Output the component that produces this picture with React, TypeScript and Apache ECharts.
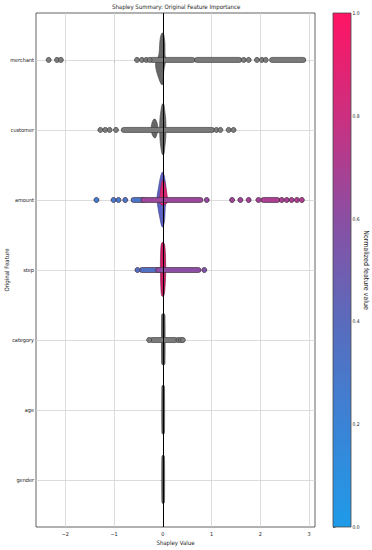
import React, { useEffect, useRef } from 'react';
import * as echarts from 'echarts';

const FONT = "'Liberation Sans Narrow', 'DejaVu Sans Condensed', 'Liberation Sans', sans-serif";

const features = ['merchant', 'customer', 'amount', 'step', 'category', 'age', 'gender'];
const xTickValues = [-2, -1, 0, 1, 2, 3];
const colorbarTickValues = [0, 0.2, 0.4, 0.6, 0.8, 1];
const colorbarColors = ['#1f9be8', '#3b83d6', '#5a6bbc', '#8a4fa3', '#cc2f7f', '#ff1464'];

// Violin outlines: [offset from the feature row, left Shapley value, right Shapley value]
const merchantViolin = [
  [-0.38, -0.02, 0.01], [-0.32, -0.05, 0.03], [-0.22, -0.065, 0.045], [-0.08, -0.08, 0.045],
  [0, -0.12, 0.06], [0.06, -0.15, 0.045], [0.16, -0.13, 0.02], [0.25, -0.09, 0.01], [0.35, -0.03, 0.0],
];
const customerViolin = [
  [-0.37, -0.01, 0.02], [-0.27, -0.04, 0.04], [-0.15, -0.06, 0.06], [-0.03, -0.065, 0.065],
  [0.11, -0.06, 0.06], [0.25, -0.04, 0.04], [0.35, -0.01, 0.02],
];
const customerSideViolin = [
  [-0.15, -0.19, -0.15], [-0.08, -0.23, -0.11], [0.0, -0.24, -0.1], [0.06, -0.22, -0.12], [0.11, -0.18, -0.15],
];
const amountViolin = [
  [-0.39, -0.02, 0.01], [-0.29, -0.06, 0.045], [-0.17, -0.09, 0.065], [-0.03, -0.12, 0.07],
  [0.11, -0.1, 0.05], [0.26, -0.06, 0.04], [0.38, -0.02, 0.01],
];
const amountCoreViolin = [
  [-0.28, -0.01, 0.02], [-0.18, -0.04, 0.06], [-0.06, -0.06, 0.09], [0.03, -0.08, 0.1], [0.07, -0.02, 0.03],
];
const stepViolin = [
  [-0.39, -0.02, 0.02], [-0.32, -0.04, 0.045], [-0.03, -0.05, 0.06], [0.25, -0.04, 0.045], [0.37, -0.02, 0.02],
];
const categoryViolin = [
  [-0.37, -0.015, 0.035], [-0.33, -0.025, 0.045], [0.31, -0.025, 0.045], [0.35, -0.015, 0.035],
];
const ageViolin = [
  [-0.35, -0.01, 0.025], [-0.31, -0.02, 0.035], [0.3, -0.02, 0.035], [0.34, -0.01, 0.025],
];
const genderViolin = [
  [-0.35, -0.01, 0.025], [-0.31, -0.02, 0.035], [0.29, -0.02, 0.035], [0.33, -0.01, 0.025],
];

// Individual points (Shapley value) and dense runs of overlapping points [from, to]
const merchantDots = [-2.34, -2.17, -2.09, -0.53, -0.43, -0.34, -0.27, 1.66, 1.76, 1.93, 2.03, 2.11];
const merchantRuns = [[-0.22, 0.61], [0.7, 1.57], [2.24, 2.88]];
const customerDots = [-1.28, -1.18, -1.09, -0.96, 1.1, 1.18, 1.35, 1.45];
const customerRuns = [[-0.8, 1.01]];
const categoryDots = [-0.28, 0.32, 0.37, 0.41];
const categoryRuns = [[-0.22, 0.26]];
// Coloured points: [Shapley value, normalized feature value]
const amountDots = [
  [-1.36, 0.22], [-1.01, 0.25], [-0.91, 0.27], [-0.77, 0.28], [0.9, 0.62], [1.42, 0.66], [1.59, 0.66],
  [1.76, 0.68], [1.96, 0.68], [2.44, 0.7], [2.54, 0.7], [2.64, 0.7], [2.75, 0.72], [2.85, 0.72],
];
const amountRuns = [[-0.6, -0.4, 0.3], [-0.4, 0.77, 0.65], [2.06, 2.35, 0.7]];
const stepDots = [[-0.52, 0.35], [0.85, 0.55]];
const stepRuns = [[-0.43, -0.1, 0.35], [-0.1, 0.73, 0.6]];

export default function App() {
  const ref = useRef<HTMLDivElement>(null);

  useEffect(() => {
    if (!ref.current) return;
    const chart = echarts.init(ref.current, undefined, { renderer: 'svg' });

    const GREY = '#676767';
    const GREY_EDGE = '#444444';
    const violinShapes = [
      { row: 0, outline: merchantViolin, fill: GREY, stroke: GREY_EDGE },
      { row: 1, outline: customerViolin, fill: GREY, stroke: GREY_EDGE },
      { row: 1, outline: customerSideViolin, fill: GREY, stroke: GREY_EDGE },
      { row: 2, outline: amountViolin, fill: '#5c62c4', stroke: '#3e3f8a' },
      { row: 2, outline: amountCoreViolin, fill: '#dc2573', stroke: '#a01a55' },
      { row: 3, outline: stepViolin, fill: '#cf1c65', stroke: '#6e1d45' },
      { row: 4, outline: categoryViolin, fill: '#5a5a5a', stroke: '#3d3d3d' },
      { row: 5, outline: ageViolin, fill: '#5a5a5a', stroke: '#3d3d3d' },
      { row: 6, outline: genderViolin, fill: '#5a5a5a', stroke: '#3d3d3d' },
    ];

    const greyRuns: number[][] = [];
    merchantRuns.forEach(([a, b]) => greyRuns.push([a, 0, b]));
    customerRuns.forEach(([a, b]) => greyRuns.push([a, 1, b]));
    categoryRuns.forEach(([a, b]) => greyRuns.push([a, 4, b]));
    const colorRuns: number[][] = [];
    amountRuns.forEach(([a, b, v]) => colorRuns.push([a, 2, v, b]));
    stepRuns.forEach(([a, b, v]) => colorRuns.push([a, 3, v, b]));

    const greyDots: number[][] = [];
    merchantDots.forEach((x) => greyDots.push([x, 0]));
    customerDots.forEach((x) => greyDots.push([x, 1]));
    categoryDots.forEach((x) => greyDots.push([x, 4]));
    const colorDots: number[][] = [];
    amountDots.forEach(([x, v]) => colorDots.push([x, 2, v]));
    stepDots.forEach(([x, v]) => colorDots.push([x, 3, v]));

    const RUN_H = 5;
    const runItem = (fill: string, stroke: string, x0: number, x1: number, row: number, api: any) => {
      const p0 = api.coord([x0, row]);
      const p1 = api.coord([x1, row]);
      return {
        type: 'rect',
        shape: { x: p0[0] - RUN_H / 2, y: p0[1] - RUN_H / 2, width: p1[0] - p0[0] + RUN_H, height: RUN_H, r: RUN_H / 2 },
        style: { fill, stroke, lineWidth: 0.7 },
      };
    };

    const textStyle = { fontFamily: FONT, color: '#1a1a1a' };

    chart.setOption({
      animation: false,
      backgroundColor: '#ffffff',
      textStyle: { fontFamily: FONT },
      title: {
        text: 'Shapley Summary: Original Feature Importance',
        left: 112,
        top: 3,
        padding: 0,
        textStyle: { ...textStyle, fontSize: 6, fontWeight: 'normal' },
      },
      grid: [
        {
          left: 36, right: 57, top: 13, height: 514, show: true, borderColor: '#3a3a3a', borderWidth: 0.8,
          backgroundColor: 'transparent', outerBoundsMode: 'none', containLabel: false,
        },
        { left: 333, width: 18, top: 13, height: 514, show: false, outerBoundsMode: 'none', containLabel: false },
      ],
      xAxis: [
        {
          type: 'value', gridIndex: 0, min: -2.6, max: 3.12,
          name: 'Shapley Value', nameLocation: 'middle', nameGap: 12, nameMoveOverlap: false,
          nameTextStyle: { ...textStyle, fontSize: 6 },
          axisLine: { show: false },
          axisTick: { show: true, customValues: xTickValues, length: 3, lineStyle: { color: '#333', width: 0.7 } },
          axisLabel: {
            customValues: xTickValues, margin: 4, fontSize: 5.5, ...textStyle,
            formatter: (v: number) => (v < 0 ? '\u2212' + Math.abs(v) : String(v)),
          },
          splitLine: { show: false },
        },
        { type: 'value', gridIndex: 1, min: 0, max: 1, show: false },
      ],
      yAxis: [
        {
          type: 'value', gridIndex: 0, inverse: true, min: -0.67, max: 6.67,
          name: 'Original Feature', nameLocation: 'middle', nameGap: 27, nameRotate: 90, nameMoveOverlap: false,
          nameTextStyle: { ...textStyle, fontSize: 6 },
          axisLine: { show: false },
          axisTick: { show: true, customValues: features.map((_, i) => i), length: 3, lineStyle: { color: '#333', width: 0.7 } },
          axisLabel: {
            customValues: features.map((_, i) => i), margin: 2, fontSize: 5.5, ...textStyle,
            formatter: (v: number) => features[Math.round(v)],
          },
          splitLine: { show: false },
        },
        {
          type: 'value', gridIndex: 1, min: 0, max: 1, interval: 0.2, position: 'right',
          name: 'Normalized feature value', nameLocation: 'middle', nameGap: 11, nameRotate: -90, nameMoveOverlap: false,
          nameTextStyle: { ...textStyle, fontSize: 7 },
          axisLine: { show: false },
          axisTick: { show: true, length: 2.5, lineStyle: { color: '#333', width: 0.7 } },
          axisLabel: { margin: 1.5, fontSize: 5, ...textStyle, formatter: (v: number) => v.toFixed(1) },
          splitLine: { show: false },
        },
      ],
      visualMap: {
        type: 'continuous', show: false, min: 0, max: 1, dimension: 2,
        seriesIndex: [3, 5], inRange: { color: colorbarColors },
      },
      series: [
        {
          // grid lines
          type: 'scatter', xAxisIndex: 0, yAxisIndex: 0, data: [], z: 1,
          markLine: {
            silent: true, symbol: 'none', z: 1, label: { show: false },
            lineStyle: { color: '#d3d3d3', width: 0.8, type: 'solid' },
            data: [
              ...xTickValues.map((v) => ({ xAxis: v })),
              ...features.map((_, i) => ({ yAxis: i })),
            ],
          },
        },
        {
          type: 'custom', xAxisIndex: 0, yAxisIndex: 0, z: 3,
          data: violinShapes.map((s) => [s.outline[0][1], s.row]),
          renderItem: (params: any, api: any) => {
            const s = violinShapes[params.dataIndex];
            const right = s.outline.map(([dy, , r]) => api.coord([r, s.row + dy]));
            const left = s.outline.slice().reverse().map(([dy, l]) => api.coord([l, s.row + dy]));
            return {
              type: 'polygon',
              shape: { points: [...right, ...left], smooth: 0.35 },
              style: { fill: s.fill, stroke: s.stroke, lineWidth: 0.6 },
            };
          },
        },
        {
          type: 'custom', xAxisIndex: 0, yAxisIndex: 0, z: 4, data: greyRuns,
          renderItem: (_p: any, api: any) => runItem('#7a7a7a', '#444444', api.value(0), api.value(2), api.value(1), api),
        },
        {
          type: 'custom', xAxisIndex: 0, yAxisIndex: 0, z: 4, data: colorRuns,
          renderItem: (_p: any, api: any) => runItem(api.visual('color'), '#4a3046', api.value(0), api.value(3), api.value(1), api),
        },
        {
          type: 'scatter', xAxisIndex: 0, yAxisIndex: 0, z: 5, data: greyDots, symbolSize: 5,
          itemStyle: { color: '#7d7d7d', borderColor: '#444444', borderWidth: 0.8, opacity: 1 },
        },
        {
          type: 'scatter', xAxisIndex: 0, yAxisIndex: 0, z: 5, data: colorDots, symbolSize: 5,
          itemStyle: { borderColor: '#4a3046', borderWidth: 0.8, opacity: 1 },
          markLine: {
            silent: true, symbol: 'none', z: 10, label: { show: false },
            lineStyle: { color: '#000000', width: 1, type: 'solid' },
            data: [{ xAxis: 0 }],
          },
        },
        {
          // colour bar
          type: 'custom', xAxisIndex: 1, yAxisIndex: 1, z: 2,
          data: [[0, 0, 1]],
          renderItem: (params: any, api: any) => {
            const top = api.coord([0, api.value(2)]);
            const bottom = api.coord([0, api.value(1)]);
            const cs = params.coordSys;
            return {
              type: 'rect',
              shape: { x: cs.x, y: top[1], width: cs.width, height: bottom[1] - top[1] },
              style: {
                fill: new echarts.graphic.LinearGradient(0, 1, 0, 0,
                  colorbarColors.map((c, i) => ({ offset: i / (colorbarColors.length - 1), color: c }))),
                stroke: '#4a4a4a', lineWidth: 0.8,
              },
            };
          },
        },
      ],
    });

    return () => chart.dispose();
  }, []);

  return (
    <div
      ref={ref}
      style={{ position: 'fixed', left: 0, top: 0, width: 372, height: 550, background: '#fff' }}
    />
  );
}
